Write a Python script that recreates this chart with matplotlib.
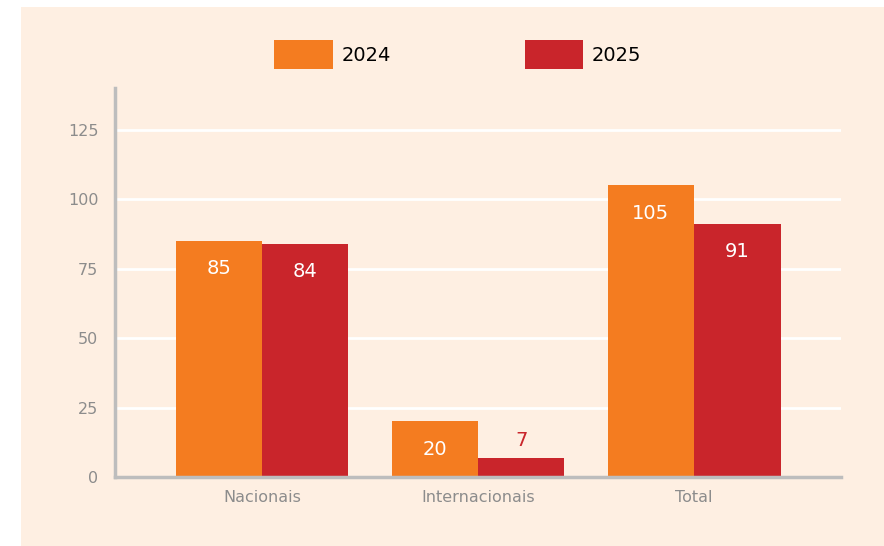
import matplotlib.pyplot as plt
from matplotlib.patches import Patch, Rectangle
import numpy as np

# data
categorias = ['Nacionais', 'Internacionais', 'Total']
anos = ['2024', '2025']
valores_2024 = [85, 20, 105]
valores_2025 = [84, 7, 91]
yticks = [0, 25, 50, 75, 100, 125]

laranja = '#F47C20'
vermelho = '#C9252B'
fundo = '#FEEFE2'
cinza = '#8C8C8C'

plt.rcParams['font.family'] = 'DejaVu Sans'

fig = plt.figure(figsize=(8.84, 5.46), dpi=100)
fig.patch.set_facecolor('white')
# cream panel behind everything
fig.patches.append(Rectangle((21 / 884, 0), 1, 539 / 546, transform=fig.transFigure,
                             facecolor=fundo, edgecolor='none', zorder=-10))

ax = fig.add_axes([115 / 884, 69 / 546, 726 / 884, 389 / 546])
ax.set_facecolor('none')

x = np.arange(len(categorias))
w = 0.4
b1 = ax.bar(x - w / 2, valores_2024, w, color=laranja, zorder=3)
b2 = ax.bar(x + w / 2, valores_2025, w, color=vermelho, zorder=3)

ax.set_xlim(-0.68, 2.68)
ax.set_ylim(0, 140)
ax.set_yticks(yticks)
ax.set_xticks(x)
ax.set_xticklabels(categorias)
ax.tick_params(axis='both', length=0, colors=cinza, labelsize=11.5)
ax.tick_params(axis='y', pad=12)
ax.tick_params(axis='x', pad=9)
ax.grid(axis='y', color='white', linewidth=2, zorder=1)
ax.set_axisbelow(True)

for s in ['top', 'right']:
    ax.spines[s].set_visible(False)
for s in ['left', 'bottom']:
    ax.spines[s].set_color('#BDBDBD')
    ax.spines[s].set_linewidth(2.5)
    ax.spines[s].set_zorder(4)

# value labels: inside the bar near the top, above it when the bar is too short
for bars in (b1, b2):
    for r in bars:
        v = r.get_height()
        cx = r.get_x() + r.get_width() / 2
        if v >= 15:
            ax.text(cx, v - 10, f'{v:g}', ha='center', va='center',
                    color='white', fontsize=14, zorder=5)
        else:
            ax.text(cx, v + 6, f'{v:g}', ha='center', va='center',
                    color=r.get_facecolor(), fontsize=14, zorder=5)

handles = [Patch(facecolor=laranja), Patch(facecolor=vermelho)]
fig.legend(handles, anos, loc='center', bbox_to_anchor=(0.518, 0.9), ncol=2,
           frameon=False, fontsize=14, handlelength=3.0, handleheight=1.9,
           handletextpad=0.45, columnspacing=6.9)

fig.savefig('out.png', dpi=100, facecolor=fig.get_facecolor())
